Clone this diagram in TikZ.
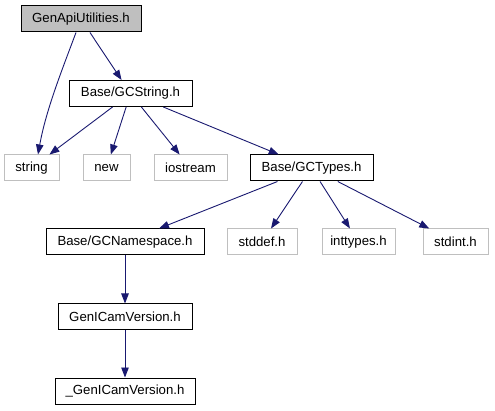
\documentclass[tikz,border=0pt]{standalone}
\usepackage{fontspec}
\setmainfont{Liberation Sans}
\usetikzlibrary{arrows.meta}
\definecolor{edgeblue}{HTML}{191970}
\definecolor{lightgrayb}{HTML}{BFBFBF}
\tikzset{
  filebox/.style={draw=black, line width=1pt, rectangle, inner sep=0pt, minimum height=26pt,
    font=\fontsize{13.2}{15}\selectfont, text=black},
  sysbox/.style={filebox, draw=lightgrayb},
  rootbox/.style={filebox, fill=lightgrayb},
  dep/.style={draw=edgeblue, line width=0.9pt, -{Triangle[length=10pt,width=7.5pt]}, color=edgeblue}
}
\begin{document}
\begin{tikzpicture}[x=1pt,y=-1pt]
\useasboundingbox (0,0) rectangle (495,411);
\node[rootbox, minimum width=120pt] (gau) at (81,19) {GenApiUtilities.h};
\node[filebox, minimum width=123pt] (gcs) at (130.5,93.5) {Base/GCString.h};
\node[sysbox, minimum width=55pt] (str) at (31.5,168) {string};
\node[sysbox, minimum width=47pt] (new) at (106.5,168) {new};
\node[sysbox, minimum width=73pt] (ios) at (190.5,168) {iostream};
\node[filebox, minimum width=123pt] (gct) at (311.5,168) {Base/GCTypes.h};
\node[filebox, minimum width=158pt] (gcn) at (125,242) {Base/GCNamespace.h};
\node[sysbox, minimum width=70pt] (std) at (262,242) {stddef.h};
\node[sysbox, minimum width=73pt] (intt) at (358.5,242) {inttypes.h};
\node[sysbox, minimum width=65pt] (stdi) at (455.5,242) {stdint.h};
\node[filebox, minimum width=134pt] (gcv) at (125,317) {GenICamVersion.h};
\node[filebox, minimum width=140pt] (ugcv) at (125,391) {\_GenICamVersion.h};

\path[dep] ([xshift=-5pt]gau.south) .. controls (62,70) and (46,110) .. ([xshift=6.5pt]str.north);
\path[dep] (gau) -- (gcs);
\path[dep] (gcs) -- (str);
\path[dep] (gcs) -- (new);
\path[dep] (gcs) -- (ios);
\path[dep] (gcs) -- (gct);
\path[dep] (gct) -- (gcn);
\path[dep] (gct) -- (std);
\path[dep] (gct) -- (intt);
\path[dep] (gct) -- (stdi);
\path[dep] (gcn) -- (gcv);
\path[dep] (gcv) -- (ugcv);
\end{tikzpicture}
\end{document}
